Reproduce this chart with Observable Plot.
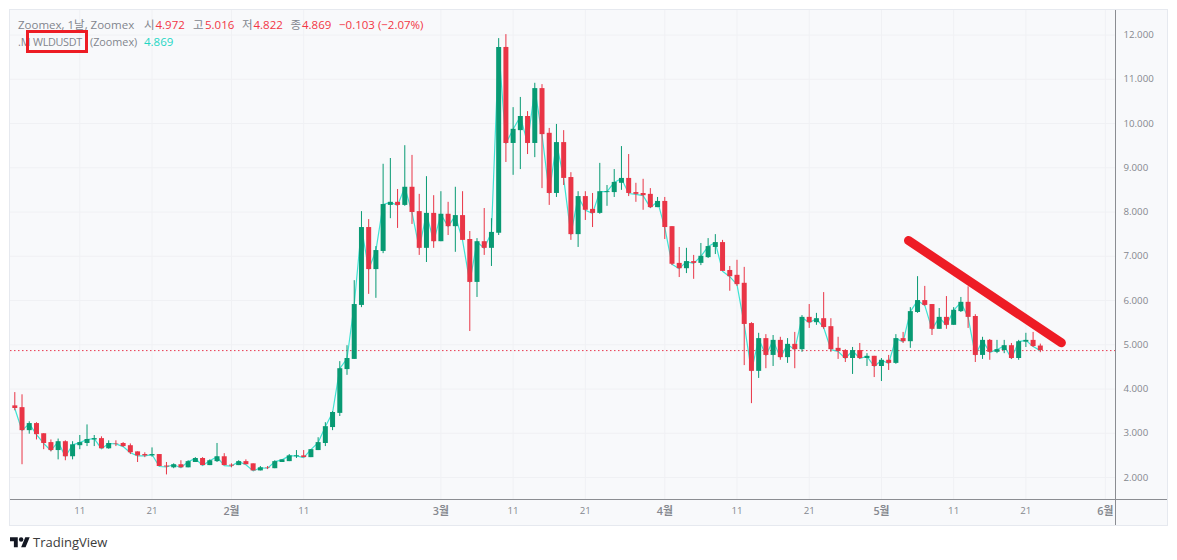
<!DOCTYPE html>
<html lang="ko">
<head>
<meta charset="utf-8">
<script src="https://cdn.jsdelivr.net/npm/d3@7"></script>
<script src="https://cdn.jsdelivr.net/npm/@observablehq/plot@0.6"></script>
<style>
  html, body { margin: 0; padding: 0; background: #fff; overflow: hidden; }
  #root { position: relative; width: 1177px; height: 560px; font-family: "Open Sans", "Noto Sans CJK KR", sans-serif; }
  #frame { position: absolute; left: 9px; top: 9px; width: 1157px; height: 515px; border: 1px solid #e6e9ef; }
  #chart { position: absolute; left: 10px; top: 10px; }
  .lg { position: absolute; font-size: 11.5px; line-height: 14px; white-space: nowrap; color: #82858d; }
  .l2 { font-size: 10.8px; }
  .red { color: #f23645; }
  .teal { color: #1fd6c4; font-size: 11.5px; }
  #box { position: absolute; left: 26px; top: 30px; width: 56px; height: 17px; border: 3px solid #ed1c24; }
  #logo { position: absolute; left: 10px; top: 535px; width: 20px; height: 15.6px; }
  #tv { position: absolute; left: 33px; top: 534px; font-size: 13px; line-height: 17px; color: #3b3b3b; }
</style>
</head>
<body>
<div id="root">
  <div id="frame"></div>
  <div id="chart"></div>
  <div class="lg" style="left:18px;top:18px">Zoomex, 1날, Zoomex</div>
  <div class="lg" style="left:144px;top:18px">시</div><div class="lg red" style="left:155.5px;top:18px">4.972</div>
  <div class="lg" style="left:193px;top:18px">고</div><div class="lg red" style="left:205px;top:18px">5.016</div>
  <div class="lg" style="left:242px;top:18px">저</div><div class="lg red" style="left:253.5px;top:18px">4.822</div>
  <div class="lg" style="left:290.5px;top:18px">종</div><div class="lg red" style="left:302px;top:18px">4.869</div>
  <div class="lg red" style="left:339px;top:18px">−0.103 (−2.07%)</div>
  <div class="lg l2" style="left:18px;top:35px">.M</div>
  <div class="lg l2" style="left:33px;top:35px;letter-spacing:-0.3px">WLDUSDT</div>
  <div class="lg l2" style="left:90px;top:35px">(Zoomex)</div>
  <div class="lg teal" style="left:144px;top:35px">4.869</div>
  <div id="box"></div>
  <svg id="logo" viewBox="0 0 36 28"><path fill="#131722" d="M14 22H7V11H0V4h14v18zM28 22h-8l7.5-18h8L28 22z"/><circle fill="#131722" cx="20" cy="8" r="4"/></svg>
  <div id="tv">TradingView</div>
</div>
<script>
const firstDay = "2024-01-02";
const lastDay = "2024-05-24";
const opens = [
  3.62,3.58,3.06,3.22,2.99,2.79,2.61,2.81,2.47,2.72,
  2.77,2.85,2.88,2.65,2.77,2.77,2.72,2.58,2.52,2.49,
  2.52,2.26,2.22,2.29,2.22,2.34,2.43,2.27,2.36,2.47,
  2.28,2.27,2.36,2.31,2.15,2.22,2.20,2.34,2.36,2.47,
  2.49,2.45,2.61,2.77,3.13,3.45,4.44,4.67,5.89,7.65,
  6.70,7.11,8.15,8.22,8.15,8.56,8.01,7.18,7.97,7.33,
  7.95,7.67,7.92,7.38,6.41,7.33,7.18,7.52,11.72,9.55,
  9.84,10.16,9.55,10.79,9.78,8.42,9.57,8.78,7.49,8.35,
  8.06,7.97,8.44,8.44,8.65,8.76,8.44,8.42,8.40,8.10,
  8.24,7.67,6.84,6.72,6.88,6.84,6.97,7.20,7.31,6.68,
  6.57,6.39,5.48,4.40,5.14,4.76,5.10,4.71,5.01,4.89,
  5.62,5.50,5.59,5.41,4.92,4.87,4.69,4.87,4.69,4.74,
  4.51,4.65,4.58,5.14,5.07,5.73,6.00,5.91,5.35,5.62,
  5.44,5.75,5.96,5.64,4.76,5.10,4.83,4.87,4.98,4.69,
  5.06,5.10,4.972
];
const closes = [
  3.56,3.06,3.22,2.97,2.77,2.61,2.81,2.47,2.74,2.79,
  2.86,2.88,2.65,2.77,2.76,2.70,2.56,2.49,2.49,2.52,
  2.25,2.24,2.29,2.22,2.36,2.43,2.27,2.38,2.47,2.27,
  2.26,2.36,2.29,2.15,2.22,2.21,2.36,2.40,2.49,2.49,
  2.45,2.63,2.79,3.15,3.47,4.46,4.69,5.91,7.65,6.70,
  7.13,8.17,8.22,8.15,8.56,7.99,7.18,7.97,7.33,7.95,
  7.67,7.92,7.36,6.41,7.33,7.18,7.54,11.72,9.55,9.87,
  10.16,9.55,10.79,9.75,8.42,9.57,8.76,7.49,8.35,8.04,
  7.97,8.46,8.46,8.67,8.76,8.42,8.40,8.37,8.10,8.24,
  7.65,6.82,6.72,6.88,6.84,7.00,7.22,7.31,6.66,6.54,
  6.36,5.46,4.40,5.14,4.76,5.10,4.71,5.01,4.89,5.62,
  5.50,5.59,5.39,4.89,4.85,4.69,4.87,4.69,4.74,4.51,
  4.65,4.58,5.14,5.07,5.75,6.00,5.89,5.35,5.62,5.44,
  5.78,5.96,5.62,4.76,5.10,4.83,4.89,4.98,4.69,5.07,
  5.10,4.96,4.869
];
const highs = [
  3.92,3.87,3.26,3.24,2.99,2.85,2.87,2.83,2.81,2.95,
  3.19,2.95,2.92,2.83,2.83,2.79,2.76,2.58,2.56,2.67,
  2.52,2.34,2.31,2.38,2.38,2.45,2.45,2.40,2.77,2.54,
  2.31,2.38,2.40,2.31,2.25,2.25,2.38,2.40,2.52,2.61,
  2.61,2.63,2.90,3.24,3.49,4.62,4.98,6.45,8.01,7.83,
  7.22,9.08,9.21,8.51,9.50,9.28,8.40,8.80,8.37,8.46,
  8.22,8.56,8.46,7.56,7.40,8.08,7.85,11.92,12.01,10.36,
  10.59,10.27,10.91,10.88,9.89,9.98,9.84,8.89,8.46,8.46,
  8.42,9.10,8.60,8.96,9.48,9.30,8.65,8.74,8.53,8.33,
  8.33,7.67,7.20,7.18,7.02,7.29,7.40,7.49,7.36,6.77,
  6.91,6.75,5.50,5.26,5.23,5.21,5.17,5.14,5.28,5.66,
  5.91,5.71,6.18,5.59,5.17,4.89,4.94,5.03,4.80,4.74,
  4.69,4.76,5.23,5.28,5.84,6.54,6.32,5.91,5.82,6.09,
  5.84,6.07,6.31,5.68,5.17,5.12,5.10,5.10,5.03,5.10,
  5.26,5.28,5.016
];
const lows = [
  3.51,2.29,2.98,2.85,2.63,2.58,2.40,2.38,2.40,2.63,
  2.70,2.70,2.65,2.64,2.70,2.68,2.52,2.34,2.45,2.46,
  2.25,2.06,2.20,2.22,2.22,2.34,2.27,2.27,2.34,2.27,
  2.22,2.27,2.29,2.15,2.15,2.18,2.20,2.34,2.36,2.43,
  2.45,2.45,2.61,2.70,3.06,3.38,4.31,4.67,5.84,6.14,
  6.05,7.06,7.85,7.63,8.13,7.72,7.02,6.86,7.18,7.33,
  7.47,7.09,7.36,5.30,6.07,7.02,6.77,7.47,9.12,8.83,
  8.96,9.30,9.23,8.53,8.15,8.33,8.60,7.36,7.20,7.81,
  7.65,7.95,8.13,8.33,8.49,8.35,8.22,8.04,8.08,8.10,
  7.38,6.79,6.52,6.61,6.48,6.79,6.95,7.04,6.66,6.21,
  6.32,4.53,3.67,4.24,4.46,4.51,4.65,4.58,4.46,4.83,
  5.37,5.44,5.35,4.83,4.67,4.60,4.33,4.67,4.51,4.26,
  4.17,4.42,4.56,5.03,4.92,5.71,5.87,5.21,5.35,5.35,
  5.44,5.73,5.37,4.60,4.67,4.65,4.80,4.80,4.67,4.65,
  4.94,4.94,4.822
];
const priceTicks = [2,3,4,5,6,7,8,9,10,11,12];
const timeTicks = [
  "2024-01-11","2024-01-21","2024-02-01","2024-02-11","2024-03-01","2024-03-11","2024-03-21",
  "2024-04-01","2024-04-11","2024-04-21","2024-05-01","2024-05-11","2024-05-21","2024-06-01"
];
const lastPrice = 4.869;
const trendDates = ["2024-05-04T18:00Z","2024-05-25T22:00Z"];
const trendValues = [7.357,5.045];
const xDomain = ["2024-01-01T09:42Z","2024-06-02T09:50Z"];
const yDomain = [1.504,12.555];

const UP = "#089a73", DOWN = "#e93546", TEAL = "#3fe3d3", GRID = "#f0f1f4", AXIS = "#8b8d92", TICK = "#85888e";

const days = d3.utcDay.range(new Date(firstDay), new Date(lastDay));
const candles = days.map((date, i) => ({date, open: opens[i], close: closes[i], high: highs[i], low: lows[i],
  color: closes[i] >= opens[i] ? UP : DOWN}));
const tickDates = timeTicks.map(d => new Date(d));
const monthTicks = tickDates.filter(d => d.getUTCDate() === 1);
const dayTicks = tickDates.filter(d => d.getUTCDate() !== 1);
const trend = trendDates.map((d, i) => ({date: new Date(d), value: trendValues[i]}));

const plot = Plot.plot({
  width: 1157, height: 515,
  marginTop: 0, marginLeft: 0, marginRight: 52, marginBottom: 26,
  style: {background: "#f8f9fb", fontFamily: '"Open Sans", "Noto Sans CJK KR", sans-serif', fontSize: "9.7px"},
  x: {type: "utc", domain: xDomain.map(d => new Date(d))},
  y: {type: "linear", domain: yDomain},
  marks: [
    Plot.gridY(priceTicks, {stroke: GRID, strokeOpacity: 1, strokeWidth: 1}),
    Plot.gridX(tickDates, {stroke: GRID, strokeOpacity: 1, strokeWidth: 1}),
    Plot.ruleY([lastPrice], {stroke: "#e8384f", strokeWidth: 1, strokeDasharray: "1.5 2.5"}),
    Plot.lineY(candles, {x: "date", y: "close", stroke: TEAL, strokeWidth: 1.2}),
    Plot.ruleX(candles, {x: "date", y1: "low", y2: "high", stroke: "color", strokeWidth: 1}),
    Plot.ruleX(candles, {x: "date", y1: "open", y2: "close", stroke: "color", strokeWidth: 5}),
    Plot.line(trend, {x: "date", y: "value", stroke: "#ee1c25", strokeWidth: 9, strokeLinecap: "round"}),
    Plot.ruleX([new Date(xDomain[1])], {stroke: AXIS, strokeWidth: 1, insetBottom: -26}),
    Plot.ruleY([yDomain[0]], {stroke: AXIS, strokeWidth: 1, insetRight: -52}),
    Plot.axisY(priceTicks, {anchor: "right", label: null, tickSize: 0, tickPadding: 8, fill: TICK, tickFormat: d => d3.format(".3f")(d)}),
    Plot.axisX(dayTicks, {anchor: "bottom", label: null, tickSize: 0, tickPadding: 8, fill: TICK, tickFormat: d => String(d.getUTCDate())}),
    Plot.axisX(monthTicks, {anchor: "bottom", label: null, tickSize: 0, tickPadding: 8, fill: TICK, fontWeight: 600, fontSize: 10.8, tickFormat: d => (d.getUTCMonth() + 1) + "월"})
  ]
});
document.getElementById("chart").appendChild(plot);
</script>
</body>
</html>
